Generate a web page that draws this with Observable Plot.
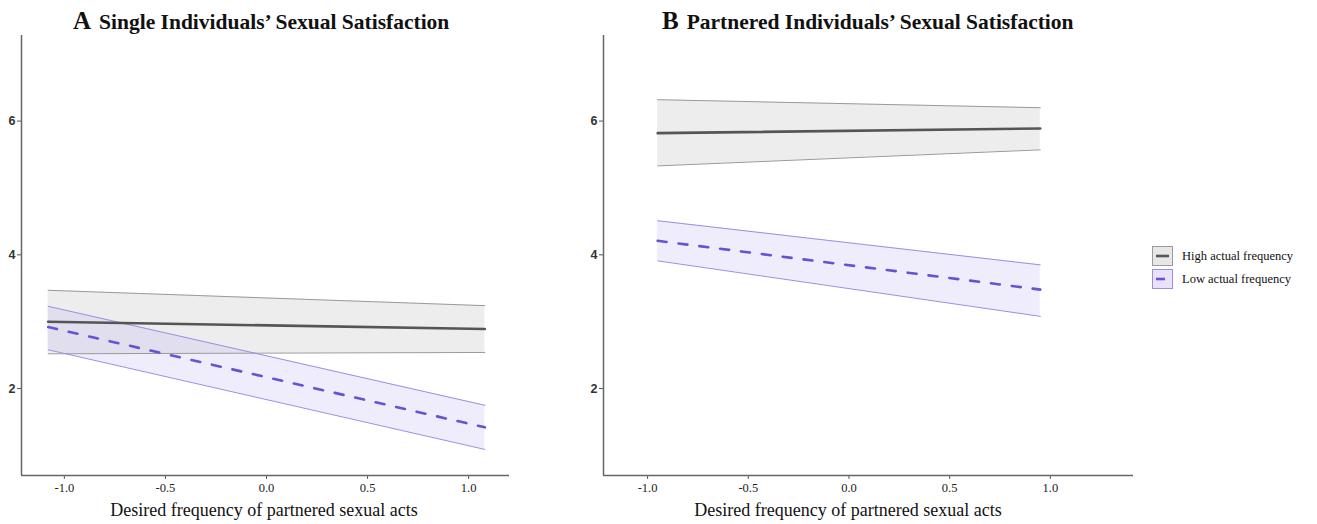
<!DOCTYPE html>
<html><head><meta charset="utf-8">
<script src="https://cdn.jsdelivr.net/npm/d3@7"></script>
<script src="https://cdn.jsdelivr.net/npm/@observablehq/plot@0.6"></script>
<style>
body{margin:0;background:#fff;font-family:"Liberation Serif","Times New Roman",serif;color:#111;}
#wrap{position:relative;width:1317px;height:524px;overflow:hidden;background:#fff;}
.panel{position:absolute;top:0;}
.title{position:absolute;top:6px;font-weight:bold;white-space:nowrap;font-size:21.5px;line-height:30px;}
.title .lt{font-size:25px;margin-right:8px;}
.xlab{position:absolute;top:499px;font-size:18px;white-space:nowrap;transform:translateX(-50%);line-height:22px;}
.legend{position:absolute;left:1152px;top:245px;font-size:12.5px;}
.legend .row{display:flex;align-items:center;height:22px;margin-bottom:1px;}
.legend svg{margin-right:9px;}
</style></head><body>
<div id="wrap"></div>
<script>
// ---------- data ----------
const groups = ["High actual frequency", "Low actual frequency"];
const xTicks = [-1.0, -0.5, 0.0, 0.5, 1.0];
const yTicks = [2, 4, 6];

// Panel A: single individuals
const titleA = "Single Individuals’ Sexual Satisfaction";
const xA = [-1.08, 1.08];
const highMeanA = [3.00, 2.89];
const highLowA  = [2.52, 2.54];
const highUpA   = [3.47, 3.24];
const lowMeanA  = [2.92, 1.42];
const lowLowA   = [2.58, 1.09];
const lowUpA    = [3.23, 1.75];

// Panel B: partnered individuals
const titleB = "Partnered Individuals’ Sexual Satisfaction";
const xB = [-0.95, 0.95];
const highMeanB = [5.82, 5.89];
const highLowB  = [5.33, 5.57];
const highUpB   = [6.32, 6.20];
const lowMeanB  = [4.21, 3.48];
const lowLowB   = [3.91, 3.08];
const lowUpB    = [4.51, 3.85];

const xLabel = "Desired frequency of partnered sexual acts";

// ---------- styles ----------
const col = {
  high: {fill: "#c4c4c4", fillOpacity: 0.3, edge: "#9a9a9a", line: "#555555"},
  low:  {fill: "#b8a8ee", fillOpacity: 0.22, edge: "#9c8de6", line: "#6a50d2"}
};

function rows(xs, mean, lo, hi, group) {
  return xs.map((x, i) => ({x, mean: mean[i], lo: lo[i], hi: hi[i], group}));
}

function panel({xs, hm, hl, hu, lm, ll, lu, xDomain, width}) {
  const H = rows(xs, hm, hl, hu, groups[0]);
  const L = rows(xs, lm, ll, lu, groups[1]);
  const yDomain = [0.70, 7.28];
  return Plot.plot({
    width, height: 524,
    marginLeft: 21, marginRight: 10, marginTop: 35, marginBottom: 49,
    x: {domain: xDomain, label: null},
    y: {domain: yDomain, label: null},
    style: {fontFamily: "Liberation Serif, Times New Roman, serif", fontSize: "12.5px", color: "#222", background: "#fff"},
    marks: [
      Plot.axisX({ticks: xTicks, tickFormat: d => d.toFixed(1), tickSize: 4, tickPadding: 4, stroke: "#555", fontSize: 12.5}),
      Plot.axisY({ticks: yTicks, tickFormat: d => String(d), tickSize: 4, tickPadding: 2, stroke: "#555",
        fontSize: 12.5, fontFamily: "Liberation Sans, Arial, sans-serif", fontWeight: "bold", fill: "#333"}),
      Plot.areaY(H, {x: "x", y1: "lo", y2: "hi", fill: col.high.fill, fillOpacity: col.high.fillOpacity}),
      Plot.areaY(L, {x: "x", y1: "lo", y2: "hi", fill: col.low.fill, fillOpacity: col.low.fillOpacity}),
      Plot.lineY(H, {x: "x", y: "hi", stroke: col.high.edge, strokeWidth: 1}),
      Plot.lineY(H, {x: "x", y: "lo", stroke: col.high.edge, strokeWidth: 1}),
      Plot.lineY(L, {x: "x", y: "hi", stroke: col.low.edge, strokeWidth: 1}),
      Plot.lineY(L, {x: "x", y: "lo", stroke: col.low.edge, strokeWidth: 1}),
      Plot.lineY(H, {x: "x", y: "mean", stroke: col.high.line, strokeWidth: 2.6}),
      Plot.lineY(L, {x: "x", y: "mean", stroke: col.low.line, strokeWidth: 2.6, strokeDasharray: "9,12"}),
      Plot.ruleX([xDomain[0]], {stroke: "#666", strokeWidth: 1.5}),
      Plot.ruleY([yDomain[0]], {stroke: "#666", strokeWidth: 1.5})
    ]
  });
}

const wrap = document.getElementById("wrap");

function addPanel(left, opts, title, letter, titleLeft, labelCenter) {
  const d = document.createElement("div");
  d.className = "panel";
  d.style.left = left + "px";
  d.appendChild(panel(opts));
  wrap.appendChild(d);
  const t = document.createElement("div");
  t.className = "title";
  t.style.left = titleLeft + "px";
  t.innerHTML = `<span class="lt">${letter}</span>`;
  t.appendChild(document.createTextNode(title));
  wrap.appendChild(t);
  const xl = document.createElement("div");
  xl.className = "xlab";
  xl.style.left = labelCenter + "px";
  xl.textContent = xLabel;
  wrap.appendChild(xl);
}

addPanel(0, {xs: xA, hm: highMeanA, hl: highLowA, hu: highUpA, lm: lowMeanA, ll: lowLowA, lu: lowUpA,
  xDomain: [-1.212, 1.202], width: 519}, titleA, "A", 73, 264);
addPanel(582, {xs: xB, hm: highMeanB, hl: highLowB, hu: highUpB, lm: lowMeanB, ll: lowLowB, lu: lowUpB,
  xDomain: [-1.219, 1.413], width: 561}, titleB, "B", 662, 848);

// legend
const leg = document.createElement("div");
leg.className = "legend";
[["high", false], ["low", true]].forEach(([k, dashed], i) => {
  const r = document.createElement("div");
  r.className = "row";
  const c = col[k];
  r.innerHTML = `<svg width="21" height="20"><rect x="0.5" y="0.5" width="20" height="19" fill="${c.fill}" fill-opacity="${c.fillOpacity + 0.1}" stroke="${c.edge}" stroke-width="1"/><line x1="4" x2="${dashed ? 13 : 17}" y1="10" y2="10" stroke="${c.line}" stroke-width="2.6"/></svg><span>${groups[i]}</span>`;
  leg.appendChild(r);
});
wrap.appendChild(leg);
</script>
</body></html>
